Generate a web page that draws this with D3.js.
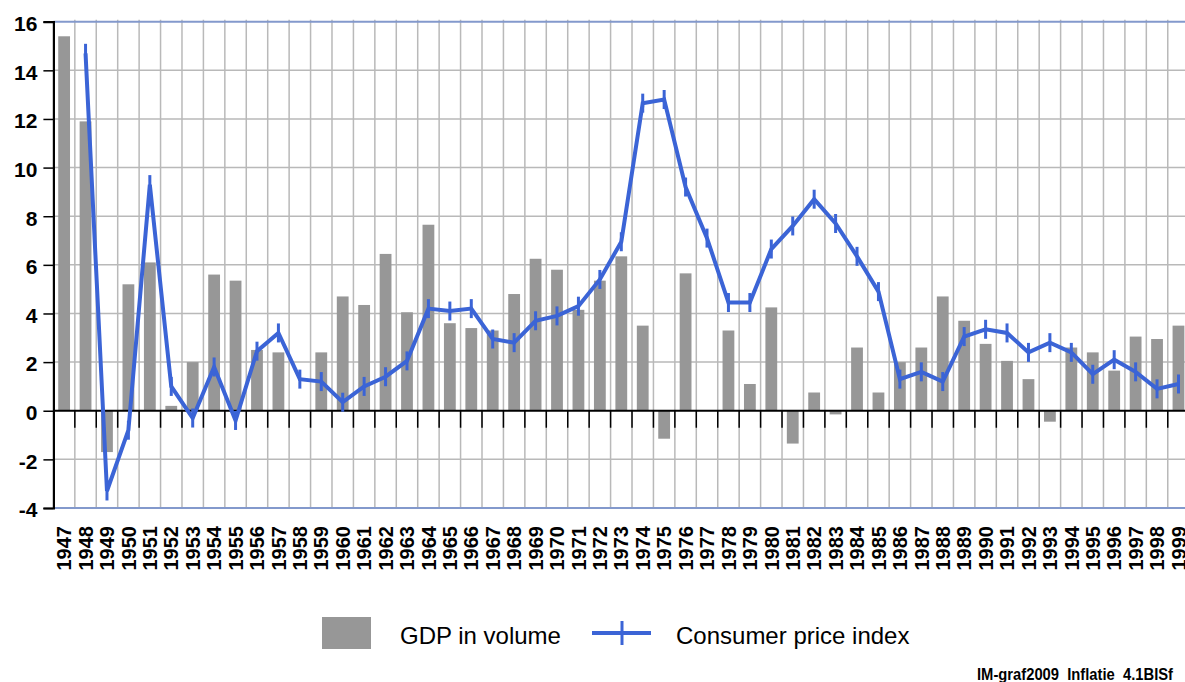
<!DOCTYPE html>
<html>
<head>
<meta charset="utf-8">
<script src="https://cdn.jsdelivr.net/npm/d3@7"></script>
<style>
  body { margin: 0; background: #fff; }
  text { font-family: Arial, "Liberation Sans", sans-serif; }
</style>
</head>
<body>
<div id="chart"></div>
<script>
const years = [
  "1947", "1948", "1949", "1950", "1951", "1952", "1953", "1954", "1955", "1956",
  "1957", "1958", "1959", "1960", "1961", "1962", "1963", "1964", "1965", "1966",
  "1967", "1968", "1969", "1970", "1971", "1972", "1973", "1974", "1975", "1976",
  "1977", "1978", "1979", "1980", "1981", "1982", "1983", "1984", "1985", "1986",
  "1987", "1988", "1989", "1990", "1991", "1992", "1993", "1994", "1995", "1996",
  "1997", "1998", "1999"
];
// GDP in volume (% change)
const gdp = [
  15.4, 11.9, -1.7, 5.2, 6.1, 0.2, 2.0, 5.6, 5.35, 2.5,
  2.4, 0, 2.4, 4.7, 4.35, 6.45, 4.05, 7.65, 3.6, 3.4,
  3.3, 4.8, 6.25, 5.8, 4.15, 5.35, 6.35, 3.5, -1.15, 5.65,
  0, 3.3, 1.1, 4.25, -1.35, 0.75, -0.15, 2.6, 0.75, 2.0,
  2.6, 4.7, 3.7, 2.75, 2.05, 1.3, -0.45, 2.6, 2.4, 1.65,
  3.05, 2.95, 3.5
];
// Consumer price index (% change), no value for 1947
const cpi = [
  null, 14.7, -3.3, -0.8, 9.3, 1.0, -0.3, 1.8, -0.4, 2.45,
  3.2, 1.3, 1.2, 0.35, 1.0, 1.4, 2.05, 4.2, 4.1, 4.2,
  2.95, 2.8, 3.7, 3.9, 4.3, 5.4, 6.95, 12.65, 12.8, 9.2,
  7.1, 4.45, 4.45, 6.65, 7.6, 8.7, 7.7, 6.35, 4.9, 1.3,
  1.6, 1.2, 3.05, 3.35, 3.2, 2.4, 2.8, 2.4, 1.5, 2.1,
  1.6, 0.9, 1.1
];
const yTicks = [-4, -2, 0, 2, 4, 6, 8, 10, 12, 14, 16];
const legendLabels = ["GDP in volume", "Consumer price index"];
const footnote = "IM-graf2009  Inflatie  4.1BISf";

const W = 1185, H = 682;
const plotLeft = 53.4, step = 21.43;
const plotTop = 21.7, plotBottom = 508;

const barColor = "#979797";
const lineColor = "#3b64d6";
const gridColor = "#b9b9b9";
const frameColor = "#8399cc";

const svg = d3.select("#chart")
  .append("svg")
  .attr("width", W)
  .attr("height", H);

const x = d3.scaleBand()
  .domain(years)
  .range([plotLeft, plotLeft + step * years.length])
  .paddingInner(0).paddingOuter(0);

const y = d3.scaleLinear()
  .domain([-4, 16])
  .range([plotBottom, plotTop]);

const data = years.map((yr, i) => ({ year: yr, gdp: gdp[i], cpi: cpi[i] }));

// vertical grid at category boundaries
svg.append("g")
  .selectAll("line")
  .data(years.slice(1))
  .join("line")
  .attr("x1", d => x(d)).attr("x2", d => x(d))
  .attr("y1", plotTop - 2).attr("y2", plotBottom)
  .style("stroke", gridColor)
  .style("stroke-width", 1.5);

// horizontal grid
svg.append("g")
  .selectAll("line")
  .data(yTicks.filter(t => t != 0 && t != 16 && t != -4))
  .join("line")
  .attr("x1", plotLeft).attr("x2", W)
  .attr("y1", d => y(d)).attr("y2", d => y(d))
  .style("stroke", gridColor)
  .style("stroke-width", 1.5);

// blue-ish frame lines at top and bottom of plot
svg.append("g")
  .selectAll("line")
  .data([16, -4])
  .join("line")
  .attr("x1", plotLeft).attr("x2", W)
  .attr("y1", d => y(d)).attr("y2", d => y(d))
  .style("stroke", frameColor)
  .style("stroke-width", 2);

// bars
const barW = 11.8;
svg.append("g")
  .selectAll("rect")
  .data(data.filter(d => d.gdp != 0))
  .join("rect")
  .attr("x", d => x(d.year) + x.bandwidth() / 2 - barW / 2)
  .attr("width", barW)
  .attr("y", d => y(Math.max(0, d.gdp)))
  .attr("height", d => Math.abs(y(d.gdp) - y(0)))
  .style("fill", barColor);

// zero line with ticks between categories
svg.append("line")
  .attr("x1", plotLeft).attr("x2", W)
  .attr("y1", y(0)).attr("y2", y(0))
  .style("stroke", "#000")
  .style("stroke-width", 2);
svg.append("g")
  .selectAll("line")
  .data(years.slice(1))
  .join("line")
  .attr("x1", d => x(d)).attr("x2", d => x(d))
  .attr("y1", y(0)).attr("y2", y(0) + 17)
  .style("stroke", "#000")
  .style("stroke-width", 1.5);

// y axis (plain hyphen for negatives, like the original)
const yAxis = svg.append("g")
  .attr("transform", `translate(${plotLeft},0)`)
  .call(d3.axisLeft(y).tickValues(yTicks).tickSize(10).tickPadding(6).tickFormat(d => String(d)));
yAxis.select(".domain").style("stroke", "#000").style("stroke-width", 2.2);
yAxis.selectAll(".tick line").style("stroke", "#000").style("stroke-width", 1.5);
yAxis.selectAll(".tick text")
  .style("font-size", "21px")
  .style("font-weight", "bold")
  .style("fill", "#000")
  .attr("dy", "0.42em");

// year labels, rotated
const xAxis = svg.append("g")
  .attr("transform", `translate(0,${plotBottom})`)
  .call(d3.axisBottom(x).tickSize(0));
xAxis.select(".domain").remove();
xAxis.selectAll(".tick text")
  .attr("transform", "rotate(-90)")
  .attr("x", -18)
  .attr("y", 0)
  .attr("dy", "0.36em")
  .style("text-anchor", "end")
  .style("font-size", "20px")
  .style("font-weight", "bold")
  .style("fill", "#000");

// CPI line
const cx = d => x(d.year) + x.bandwidth() / 2;
const line = d3.line()
  .defined(d => d.cpi != null)
  .x(cx)
  .y(d => y(d.cpi));

svg.append("path")
  .datum(data)
  .attr("d", line)
  .style("fill", "none")
  .style("stroke", lineColor)
  .style("stroke-width", 4);

// vertical dash markers
svg.append("g")
  .selectAll("line")
  .data(data.filter(d => d.cpi != null))
  .join("line")
  .attr("x1", cx).attr("x2", cx)
  .attr("y1", d => y(d.cpi) - 9.5)
  .attr("y2", d => y(d.cpi) + 9.5)
  .style("stroke", lineColor)
  .style("stroke-width", 3);

// legend
const legend = svg.append("g");
legend.append("rect")
  .attr("x", 322).attr("y", 617)
  .attr("width", 49).attr("height", 32)
  .style("fill", barColor);
legend.append("text")
  .attr("x", 400).attr("y", 644)
  .style("font-size", "24px")
  .text(legendLabels[0]);
legend.append("line")
  .attr("x1", 592).attr("x2", 651)
  .attr("y1", 633).attr("y2", 633)
  .style("stroke", lineColor)
  .style("stroke-width", 4);
legend.append("line")
  .attr("x1", 622).attr("x2", 622)
  .attr("y1", 621).attr("y2", 645)
  .style("stroke", lineColor)
  .style("stroke-width", 3);
legend.append("text")
  .attr("x", 676).attr("y", 644)
  .style("font-size", "24px")
  .text(legendLabels[1]);

// source note
svg.append("text")
  .attr("x", 1173).attr("y", 680)
  .style("text-anchor", "end")
  .style("font-size", "16px")
  .style("font-weight", "bold")
  .style("white-space", "pre")
  .attr("textLength", 196)
  .attr("lengthAdjust", "spacingAndGlyphs")
  .text(footnote);
</script>
</body>
</html>
